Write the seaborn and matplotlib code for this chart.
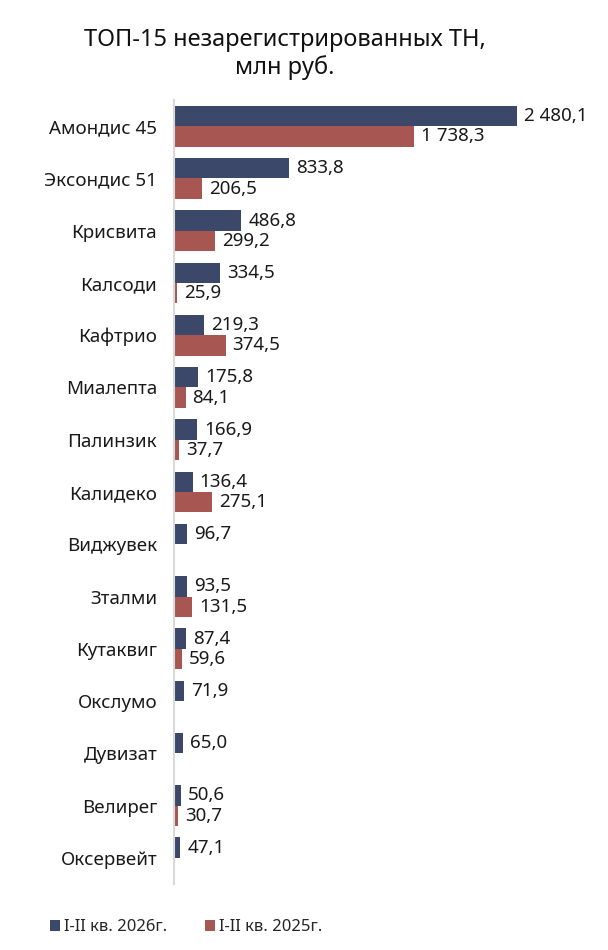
import numpy as np
import pandas as pd
import matplotlib
matplotlib.use("Agg")
import matplotlib.pyplot as plt
import seaborn as sns

categories = ["Амондис 45", "Эксондис 51", "Крисвита", "Калсоди", "Кафтрио",
              "Миалепта", "Палинзик", "Калидеко", "Виджувек", "Зталми",
              "Кутаквиг", "Окслумо", "Дувизат", "Велирег", "Оксервейт"]
values_2026 = [2480.1, 833.8, 486.8, 334.5, 219.3, 175.8, 166.9, 136.4, 96.7,
               93.5, 87.4, 71.9, 65.0, 50.6, 47.1]
values_2025 = [1738.3, 206.5, 299.2, 25.9, 374.5, 84.1, 37.7, 275.1, np.nan,
               131.5, 59.6, np.nan, np.nan, 30.7, np.nan]
series_names = ["I-II кв. 2026г.", "I-II кв. 2025г."]
colors = ["#3B4869", "#A85652"]
title = "ТОП-15 незарегистрированных ТН,\nмлн руб."

sns.set_theme(style="white")
plt.rcParams["font.family"] = ["Noto Sans", "DejaVu Sans"]

df = pd.DataFrame({
    "cat": categories * 2,
    "val": values_2026 + values_2025,
    "series": [series_names[0]] * len(categories) + [series_names[1]] * len(categories),
})

fig = plt.figure(figsize=(6.08, 9.5), dpi=100)
ax = fig.add_axes([0.286, 0.0695, 0.664, 0.8252])

sns.barplot(data=df, y="cat", x="val", hue="series", order=categories,
            hue_order=series_names, palette=colors, width=0.78, gap=0,
            errorbar=None, saturation=1, linewidth=0, ax=ax, legend=True)


def fmt(v):
    if v is None or np.isnan(v):
        return ""
    s = f"{v:,.1f}".replace(",", " ").replace(".", ",")
    return s


for cont in ax.containers:
    ax.bar_label(cont, fmt=fmt, padding=5, fontsize=13.5, color="#1a1a1a")

ax.set_xlim(0, 2920)
ax.set_xlabel("")
ax.set_ylabel("")
ax.set_xticks([])
ax.tick_params(axis="y", length=0, pad=12, labelsize=13.5, labelcolor="#1a1a1a")
for s in ["top", "right", "bottom"]:
    ax.spines[s].set_visible(False)
ax.spines["left"].set_color("#D9D9D9")
ax.spines["left"].set_linewidth(1.5)

handles, labels = ax.get_legend_handles_labels()
ax.get_legend().remove()
fig.legend(handles, labels, loc="center left", bbox_to_anchor=(0.082, 0.024),
           ncol=2, frameon=False, fontsize=12, handlelength=0.62,
           handleheight=0.62, handletextpad=0.2, columnspacing=2.3,
           borderpad=0, borderaxespad=0)

fig.text(0.468, 0.943, title, ha="center", va="center", fontsize=17,
         color="#111111", linespacing=1.2)

fig.savefig("out.png", dpi=100)
